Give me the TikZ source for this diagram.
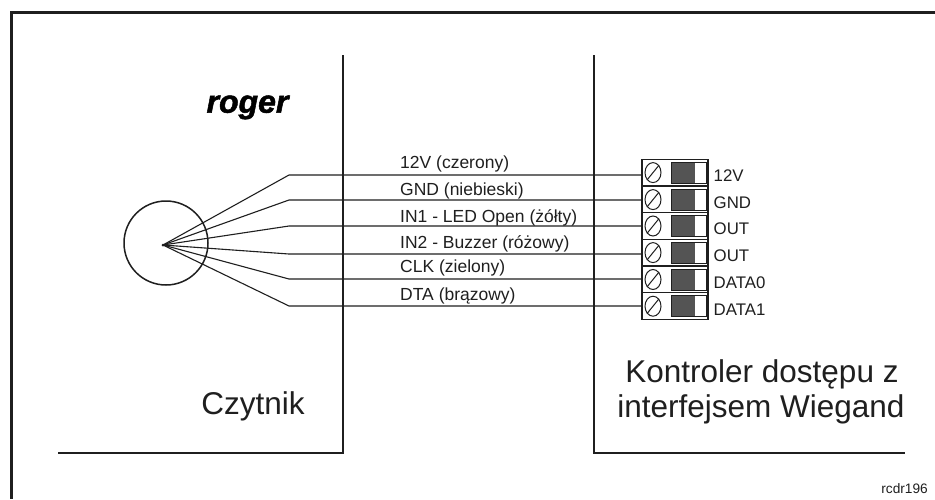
\documentclass[tikz,border=0pt]{standalone}
\usepackage{fontspec}
\setmainfont{Liberation Sans}
\newfontfamily\logofont[BoldItalicFont={Liberation Sans Bold Italic},BoldItalicFeatures={FakeBold=1.6}]{Liberation Sans}
\usetikzlibrary{shapes.geometric}
\definecolor{ink}{gray}{0.12}
\definecolor{termdark}{gray}{0.33}
\tikzset{
  x=1pt,y=-1pt,
  wall/.style={draw=ink,line width=2pt},
  wire/.style={draw=ink,line width=1.1pt,line join=round},
  wirelabel/.style={anchor=base west,inner sep=0pt,font=\fontsize{17.5}{20}\selectfont,text=ink},
  termlabel/.style={anchor=base west,inner sep=0pt,font=\fontsize{16.8}{20}\selectfont,text=ink},
  bigtext/.style={inner sep=0pt,anchor=base,font=\fontsize{31.5}{35}\selectfont,text=ink},
  cell/.style={draw=ink,line width=1.2pt,fill=white,minimum width=66pt,minimum height=26.7pt,inner sep=0pt,outer sep=0pt},
  screw/.style={draw=ink,line width=1pt,ellipse,minimum width=16pt,minimum height=20pt,inner sep=0pt,fill=white},
}
\begin{document}
\begin{tikzpicture}
\useasboundingbox (0,0) rectangle (935,499);
\fill[white] (0,0) rectangle (935,499);
% outer frame
\draw[draw=ink,line width=3pt] (935,12.5) -- (11.5,12.5) -- (11.5,499);
% panels
\draw[wall] (343,55) -- (343,453) -- (58,453);
\draw[wall] (594,55) -- (594,453) -- (905,453);
% reader
\node[draw=ink,line width=1.5pt,circle,minimum size=84pt,inner sep=0pt] (reader) at (166,243) {};
\coordinate (hub) at (163,245);
\fill[ink] (hub) circle (1.5);
\node[anchor=base,inner sep=0pt,font=\fontsize{32}{34}\logofont\bfseries\itshape] (logo) at (247.5,112.7) {roger};
\node[bigtext] (czytnik) at (253,414) {Czytnik};
\node[bigtext] (kontroler) at (762,382) {Kontroler dostępu z};
\node[bigtext] (wiegand) at (761,417) {interfejsem Wiegand};
\node[anchor=base east,inner sep=0pt,font=\fontsize{13.7}{15}\selectfont,text=ink] (ref) at (928,493) {rcdr196};
% terminal block
\foreach \i/\yy/\base/\lab in {1/172.6/181/12V,2/199.6/208/GND,3/226/234.5/OUT,4/252.6/261.5/OUT,5/279.5/288/DATA0,6/306.2/315.5/DATA1}{
  \node[cell] (cell\i) at (675,\yy) {};
  \node[screw] (screw\i) at (653,\yy) {};
  \draw[ink,line width=1pt] (screw\i.south west) -- (screw\i.north east);
  \fill[termdark] (671,\yy-10.5) rectangle (695,\yy+10.5);
  \draw[ink,line width=0.7pt] (671,\yy-10.5) rectangle (706,\yy+10.5);
  \node[termlabel] (label\i) at (713.5,\base) {\lab};
}
% wires
\foreach \i/\yy in {1/175,2/200,3/226,4/254,5/279,6/306}{
  \coordinate (knee\i) at (289,\yy);
  \draw[wire] (hub) -- (knee\i) -- (cell\i.west |- knee\i);
}
% wire labels
\node[wirelabel] (w1) at (400,168) {12V (czerony)};
\node[wirelabel] (w2) at (400,195.5) {GND (niebieski)};
\node[wirelabel] (w3) at (400,222) {IN1 - LED Open (żółty)};
\node[wirelabel] (w4) at (400,248) {IN2 - Buzzer (różowy)};
\node[wirelabel] (w5) at (400,272) {CLK (zielony)};
\node[wirelabel] (w6) at (400,300) {DTA (brązowy)};
\end{tikzpicture}
\end{document}
